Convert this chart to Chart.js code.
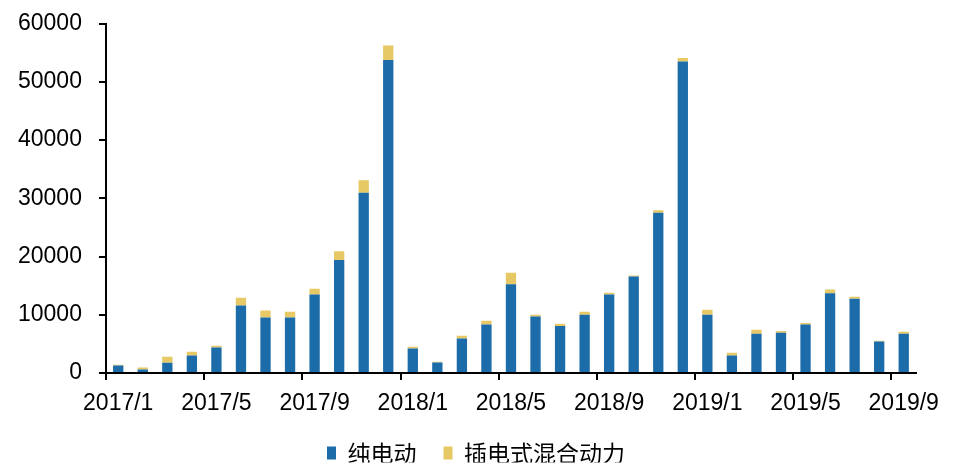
<!DOCTYPE html>
<html>
<head>
<meta charset="utf-8">
<script src="https://cdn.jsdelivr.net/npm/chart.js@4/dist/chart.umd.min.js"></script>
<style>
  html, body { margin: 0; padding: 0; background: #fff; }
  #wrap { width: 953px; height: 465px; position: relative; }
</style>
</head>
<body>
<div id="wrap"><canvas id="c"></canvas></div>
<script>
// 月份
var months = [
  '2017/1','2017/2','2017/3','2017/4','2017/5','2017/6','2017/7','2017/8','2017/9','2017/10','2017/11','2017/12',
  '2018/1','2018/2','2018/3','2018/4','2018/5','2018/6','2018/7','2018/8','2018/9','2018/10','2018/11','2018/12',
  '2019/1','2019/2','2019/3','2019/4','2019/5','2019/6','2019/7','2019/8','2019/9'
];
// 纯电动
var bev = [
  1300, 620, 1770, 3020, 4390, 11590, 9530, 9530, 13470, 19420, 30960, 53750,
  4220, 1820, 5930, 8330, 15250, 9700, 8060, 9990, 13470, 16560, 27530, 53480,
  9990, 3020, 6740, 6910, 8330, 13710, 12740, 5420, 6740
];
// 插电式混合动力
var phev = [
  120, 340, 1020, 630, 290, 1320, 1200, 980, 980, 1490, 2120, 2470,
  290, 120, 460, 630, 1940, 290, 390, 520, 290, 170, 410, 610,
  860, 460, 680, 290, 240, 620, 340, 120, 340
];
var yTicks = [0, 10000, 20000, 30000, 40000, 50000, 60000];

var FONT = '"Liberation Sans", Arial, sans-serif';
var CJK = '"Noto Sans CJK SC", sans-serif';

// 图例整体挪一下位置（图例间距和上下位置分开控制）
var legendShift = {
  id: 'legendShift',
  afterLayout: function(ch) {
    var lg = ch.legend;
    if (!lg) return;
    lg.left += 17.5; lg.right += 17.5;
    lg.top -= 2.5; lg.bottom -= 2.5;
  }
};

new Chart(document.getElementById('c'), {
  type: 'bar',
  data: {
    labels: months,
    datasets: [
      { label: '纯电动', data: bev, backgroundColor: '#1b6ca8', barPercentage: 0.42, categoryPercentage: 1 },
      { label: '插电式混合动力', data: phev, backgroundColor: '#e6c865', barPercentage: 0.42, categoryPercentage: 1 }
    ]
  },
  plugins: [legendShift],
  options: {
    responsive: true, maintainAspectRatio: false, animation: false,
    layout: { padding: { left: 1, right: 37, top: 0, bottom: 0 } },
    plugins: {
      tooltip: { enabled: false },
      legend: {
        position: 'bottom',
        maxHeight: 48,
        labels: {
          color: '#000', boxWidth: 9, boxHeight: 13, padding: 27,
          font: { family: CJK, size: 23 }
        }
      }
    },
    scales: {
      x: {
        stacked: true,
        offset: true,
        border: { color: '#000', width: 2 },
        grid: {
          offset: true, drawOnChartArea: false, drawTicks: true, tickLength: 7,
          color: function(c) { return c.index % 4 === 0 ? '#000' : 'rgba(0,0,0,0)'; },
          lineWidth: 2
        },
        ticks: {
          autoSkip: false, maxRotation: 0, color: '#000', padding: 10,
          font: { family: FONT, size: 23 },
          callback: function(v, i) { return i % 4 === 0 ? months[i] : ''; }
        },
        afterFit: function(s) { s.height = 44; }
      },
      y: {
        stacked: true,
        min: 0, max: 60000,
        border: { color: '#000', width: 2 },
        grid: { drawOnChartArea: false, drawTicks: true, tickLength: 7, color: '#000', lineWidth: 2 },
        afterBuildTicks: function(ax) { ax.ticks = yTicks.map(function(v) { return { value: v }; }); },
        ticks: {
          color: '#000', padding: 17, font: { family: FONT, size: 23 },
          callback: function(v) { return String(v); }
        },
        afterFit: function(s) { s.paddingTop = 23.5; }
      }
    }
  }
});
</script>
</body>
</html>
